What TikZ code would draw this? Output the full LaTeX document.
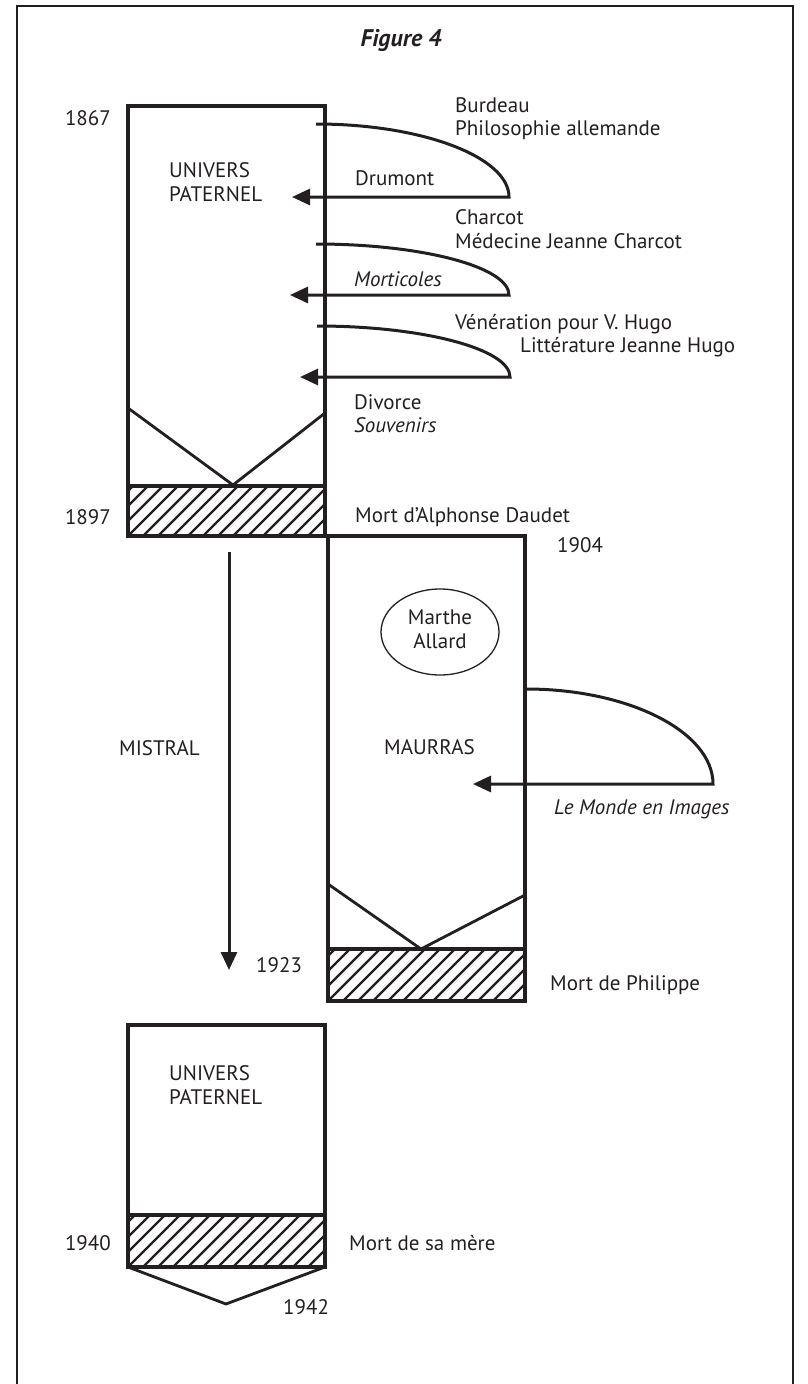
\documentclass[tikz,border=0pt]{standalone}
\usepackage{fontspec}
\setmainfont{PT Sans}
\usetikzlibrary{arrows.meta,shapes.geometric}
\definecolor{ink}{RGB}{35,31,32}
\newcommand\myhatch[4]{%
  \begin{scope}
    \clip (#1,#2) rectangle (#3,#4);
    \foreach \k in {-6,...,16} {\draw[hatchline] ({#1+\k*15},#4) -- ++(60,-60);}
  \end{scope}
  \draw[boxline] (#1,#2) rectangle (#3,#4);}
\begin{document}
\begin{tikzpicture}[x=1pt,y=-1pt,
  boxline/.style={draw=ink,line width=3.3pt},
  vline/.style={draw=ink,line width=2.8pt},
  hatchline/.style={draw=ink,line width=2.3pt},
  curveline/.style={draw=ink,line width=3pt},
  tip/.style={-{Triangle[length=18pt,width=16pt]}},
  frameline/.style={draw=ink,line width=1.6pt},
  txt/.style={inner sep=0pt,font=\fontsize{21}{24}\selectfont,text=ink},
  itxt/.style={txt,font=\fontsize{21}{24}\selectfont\itshape}]
\useasboundingbox (0,0) rectangle (808,1384);
% frame
\draw[frameline] (17,1390) -- (17,6) -- (793,6) -- (793,1390);
\node[txt,anchor=base,font=\fontsize{24}{28}\selectfont\bfseries\itshape] (title) at (401,46) {Figure 4};

% ---- box 1
\draw[boxline] (128,106) rectangle (325,536);
\myhatch{128}{486}{325}{536}
\draw[vline] (128,408) -- (233,485) -- (325,413);
\node[txt,anchor=base east] (y1867) at (111,125) {1867};
\node[txt,anchor=base west,align=left] (up1a) at (169,177) {UNIVERS};
\node[txt,anchor=base west] (up1b) at (169,201) {PATERNEL};
\node[txt,anchor=base east] (y1897) at (111,524) {1897};

\node[txt,anchor=base west] (burdeau) at (455,112) {Burdeau};
\node[txt,anchor=base west] (philo) at (455,135) {Philosophie allemande};
\node[txt,anchor=base west] (drumont) at (355,185) {Drumont};
\node[txt,anchor=base west] (charcot) at (455,224) {Charcot};
\node[txt,anchor=base west] (medecine) at (455,248) {Médecine Jeanne Charcot};
\node[itxt,anchor=base west] (morticoles) at (354,286) {Morticoles};
\node[txt,anchor=base west] (veneration) at (455,329) {Vénération pour V. Hugo};
\node[txt,anchor=base west] (litterature) at (520,352) {Littérature Jeanne Hugo};
\node[txt,anchor=base west] (divorce) at (354,409) {Divorce};
\node[itxt,anchor=base west] (souvenirs) at (354,432) {Souvenirs};
\node[txt,anchor=base west] (mortad) at (355,522) {Mort d’Alphonse Daudet};

\coordinate (s1) at (316,124); \coordinate (e1) at (509,197); \coordinate (t1) at (292,197);
\coordinate (s2) at (316,244); \coordinate (e2) at (509,295); \coordinate (t2) at (290,295);
\coordinate (s3) at (317,326); \coordinate (e3) at (510,377); \coordinate (t3) at (300,377);
\draw[curveline,tip] (s1) .. controls +(106,0) and +(0,-40) .. (e1) -- (t1);
\draw[curveline,tip] (s2) .. controls +(106,0) and +(0,-28) .. (e2) -- (t2);
\draw[curveline,tip] (s3) .. controls +(106,0) and +(0,-28) .. (e3) -- (t3);

% ---- box 2
\draw[boxline] (328,536) rectangle (525,1001);
\myhatch{328}{949}{525}{1001}
\draw[vline] (328,884) -- (421,949) -- (525,895);
\node[txt,anchor=base west] (y1904) at (557,552) {1904};
\node[draw=ink,line width=1.3pt,ellipse,minimum width=118pt,minimum height=86pt,inner sep=0pt] (marthe) at (440,632) {};
\node[txt,anchor=base] (marthea) at (440,624) {Marthe};
\node[txt,anchor=base] (martheb) at (440,648) {Allard};
\node[txt,anchor=base west] (maurras) at (384,754) {MAURRAS};
\node[itxt,anchor=base west] (monde) at (554,814) {Le Monde en Images};
\coordinate (s4) at (526,689); \coordinate (e4) at (713,784); \coordinate (t4) at (473,784);
\draw[curveline,tip] (s4) .. controls +(103,0) and +(0,-52) .. (e4) -- (t4);
\node[txt,anchor=base west] (y1923) at (256,972) {1923};
\node[txt,anchor=base west] (mortph) at (550,990) {Mort de Philippe};

% MISTRAL arrow
\coordinate (ms) at (229,552); \coordinate (me) at (229,970);
\draw[curveline,tip] (ms) -- (me);
\node[txt,anchor=base east] (mistral) at (200,755) {MISTRAL};

% ---- box 3
\draw[boxline] (128,1025) rectangle (325,1267);
\myhatch{128}{1215}{325}{1267}
\draw[vline] (128,1267) -- (226,1304) -- (325,1267);
\node[txt,anchor=base west] (up3a) at (169,1080) {UNIVERS};
\node[txt,anchor=base west] (up3b) at (169,1104) {PATERNEL};
\node[txt,anchor=base east] (y1940) at (111,1250) {1940};
\node[txt,anchor=base west] (mortmere) at (349,1250) {Mort de sa mère};
\node[txt,anchor=base west] (y1942) at (283,1314) {1942};
\end{tikzpicture}
\end{document}
